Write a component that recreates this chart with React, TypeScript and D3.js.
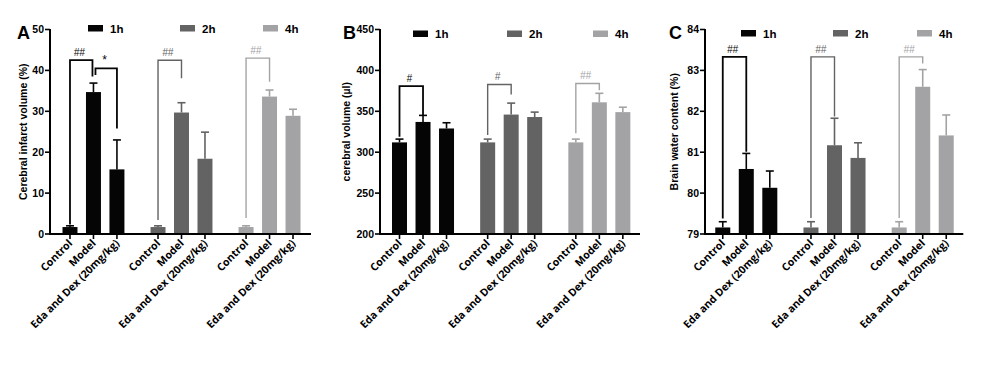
import React from "react";
import * as d3 from "d3";

const groups = ["1h", "2h", "4h"];
const conditions = ["Control", "Model", "Eda and Dex (20mg/kg)"];
const groupColors = ["#050505", "#636363", "#a3a3a6"];

// Panel A: cerebral infarct volume (%)
const infarctMean = [1.7, 34.7, 15.8, 1.7, 29.7, 18.4, 1.7, 33.6, 28.9];
const infarctErr = [0.3, 2.2, 7.2, 0.3, 2.4, 6.5, 0.3, 1.6, 1.6];
const infarctTicks = [0, 10, 20, 30, 40, 50];

// Panel B: cerebral volume (µl)
const volumeMean = [312, 337, 329, 312, 346, 343, 312, 361, 349];
const volumeErr = [4, 8, 7, 4, 14, 6, 4, 11, 6];
const volumeTicks = [200, 250, 300, 350, 400, 450];

// Panel C: brain water content (%)
const waterMean = [79.16, 80.59, 80.13, 79.16, 81.17, 80.86, 79.16, 82.6, 81.41];
const waterErr = [0.14, 0.38, 0.41, 0.14, 0.66, 0.37, 0.14, 0.42, 0.5];
const waterTicks = [79, 80, 81, 82, 83, 84];

// significance brackets: [group, fromCond, toCond, topValue, fromEnd, toEnd, label]
const infarctSig = [
  ["1h", 0, 1, 42.5, 2.3, 38.5, "##"],
  ["1h", 1, 2, 40.5, 38.9, 25.8, "*"],
  ["2h", 0, 1, 42.5, 3.4, 38.1, "##"],
  ["4h", 0, 1, 43, 3.9, 37.2, "##"],
];
const volumeSig = [
  ["1h", 0, 1, 380.7, 318.8, 345.3, "#"],
  ["2h", 0, 1, 382.8, 320.9, 370.6, "#"],
  ["4h", 0, 1, 384, 323.3, 375.8, "##"],
];
const waterSig = [
  ["1h", 0, 1, 83.33, 79.38, 81.01, "##"],
  ["2h", 0, 1, 83.33, 79.39, 81.87, "##"],
  ["4h", 0, 1, 83.33, 79.39, 83.17, "##"],
];

const panels = [
  {
    letter: "A", axisX: 50, bandStart: 8.25, bandEnd: 254.75, axisEnd: 261,
    domain: [0, 50], ticks: infarctTicks, mean: infarctMean, err: infarctErr, sig: infarctSig,
    ylabel: "Cerebral infarct volume (%)", ylabelX: 27, letterX: 17, legendY: 25, legendOff: [38, 130, 213],
  },
  {
    letter: "B", axisX: 380, bandStart: 7.75, bandEnd: 254.6, axisEnd: 260,
    domain: [200, 450], ticks: volumeTicks, mean: volumeMean, err: volumeErr, sig: volumeSig,
    ylabel: "cerebral volume (µl)", ylabelX: 350, letterX: 343, legendY: 30.5, legendOff: [33, 127, 213],
  },
  {
    letter: "C", axisX: 705, bandStart: 6, bandEnd: 253, axisEnd: 258.3,
    domain: [79, 84], ticks: waterTicks, mean: waterMean, err: waterErr, sig: waterSig,
    ylabel: "Brain water content (%)", ylabelX: 678, letterX: 669, legendY: 30, legendOff: [36, 128, 212],
  },
];

const TOP = 29.5;
const BOTTOM = 234;
const tickFont = "'Liberation Sans', Arial, sans-serif";
const labelFont = "'Open Sans', 'DejaVu Sans', sans-serif";

function Panel({ p }: { p: any }) {
  const y = d3.scaleLinear().domain(p.domain).range([BOTTOM, TOP]);
  const x0 = d3
    .scaleBand()
    .domain(groups)
    .range([p.axisX + p.bandStart, p.axisX + p.bandEnd])
    .paddingInner(0.2)
    .paddingOuter(0);
  const x1 = d3
    .scaleBand()
    .domain(conditions)
    .range([0, x0.bandwidth()])
    .paddingInner(0.362)
    .paddingOuter(0.181);
  const bw = x1.bandwidth();
  const cx = (g: string, c: string) => (x0(g) as number) + (x1(c) as number) + bw / 2;

  const items: any[] = [];
  groups.forEach((g, gi) =>
    conditions.forEach((c, ci) => {
      const k = gi * 3 + ci;
      items.push({ g, c, gi, mean: p.mean[k], err: p.err[k] });
    })
  );

  return (
    <g>
      <text x={p.letterX} y={39} fontFamily={tickFont} fontWeight="bold" fontSize={18}>
        {p.letter}
      </text>
      {/* legend */}
      {groups.map((g, gi) => (
        <g key={g}>
          <rect x={p.axisX + p.legendOff[gi]} y={p.legendY} width={15} height={6.5} fill={groupColors[gi]} />
          <text x={p.axisX + p.legendOff[gi] + 22} y={p.legendY + 7.5} fontFamily={tickFont} fontWeight="bold" fontSize={11.5}>
            {g}
          </text>
        </g>
      ))}
      {/* bars */}
      {items.map((d, i) => {
        const xc = cx(d.g, d.c);
        const col = groupColors[d.gi];
        return (
          <g key={i}>
            <line x1={xc} x2={xc} y1={y(d.mean)} y2={y(d.mean + d.err)} stroke={col} strokeWidth={1.6} />
            <line x1={xc - 4} x2={xc + 4} y1={y(d.mean + d.err)} y2={y(d.mean + d.err)} stroke={col} strokeWidth={1.6} />
            <rect x={xc - bw / 2} y={y(d.mean)} width={bw} height={BOTTOM - y(d.mean)} fill={col} />
          </g>
        );
      })}
      {/* brackets */}
      {p.sig.map((s: any[], i: number) => {
        const gi = groups.indexOf(s[0]);
        const col = groupColors[gi];
        const xa = cx(s[0], conditions[s[1]]) + (s[6] === "*" ? 2 : 0);
        const xb = cx(s[0], conditions[s[2]]) - (s[1] === 0 && s[6] === "##" && p.letter === "A" && gi === 0 ? 1 : 0);
        const yt = y(s[3]);
        return (
          <g key={"s" + i}>
            <path
              d={`M${xa},${y(s[4])}V${yt}H${xb}V${y(s[5])}`}
              fill="none"
              stroke={col}
              strokeWidth={gi === 0 ? 1.8 : 1.4}
            />
            <text
              x={(xa + xb) / 2 - 2}
              y={yt - 4}
              textAnchor="middle"
              fontFamily={tickFont}
              fontStyle="italic"
              fontSize={s[6] === "*" ? 12 : 10}
              fill={col}
            >
              {s[6]}
            </text>
          </g>
        );
      })}
      {/* y axis */}
      <line x1={p.axisX} x2={p.axisX} y1={TOP - 0.5} y2={BOTTOM + 1} stroke="#000" strokeWidth={2} />
      {p.ticks.map((t: number) => (
        <g key={t}>
          <line x1={p.axisX - 5} x2={p.axisX} y1={y(t)} y2={y(t)} stroke="#000" strokeWidth={1.6} />
          <text x={p.axisX - 6} y={y(t) + 3.8} textAnchor="end" fontFamily={tickFont} fontWeight="bold" fontSize={10.5}>
            {t}
          </text>
        </g>
      ))}
      <text
        transform={`translate(${p.ylabelX},${(TOP + BOTTOM) / 2}) rotate(-90)`}
        textAnchor="middle"
        fontFamily={tickFont}
        fontWeight="bold"
        fontSize={10.5}
      >
        {p.ylabel}
      </text>
      {/* x axis */}
      <line x1={p.axisX - 1} x2={p.axisX + p.axisEnd} y1={BOTTOM} y2={BOTTOM} stroke="#000" strokeWidth={2} />
      {items.map((d, i) => {
        const xc = cx(d.g, d.c);
        return (
          <g key={"x" + i}>
            <line x1={xc} x2={xc} y1={BOTTOM} y2={BOTTOM + 5} stroke="#000" strokeWidth={1.6} />
            <text
              transform={`translate(${xc + 3},${BOTTOM + 10}) rotate(-45)`}
              textAnchor="end"
              fontFamily={labelFont}
              fontWeight="bold"
              fontSize={10.6}
            >
              {d.c}
            </text>
          </g>
        );
      })}
    </g>
  );
}

export default function App() {
  return (
    <div style={{ position: "absolute", left: 0, top: 0 }}>
      <svg width={1000} height={365} style={{ display: "block", background: "#fff" }}>
        {panels.map((p) => (
          <Panel key={p.letter} p={p} />
        ))}
      </svg>
    </div>
  );
}
